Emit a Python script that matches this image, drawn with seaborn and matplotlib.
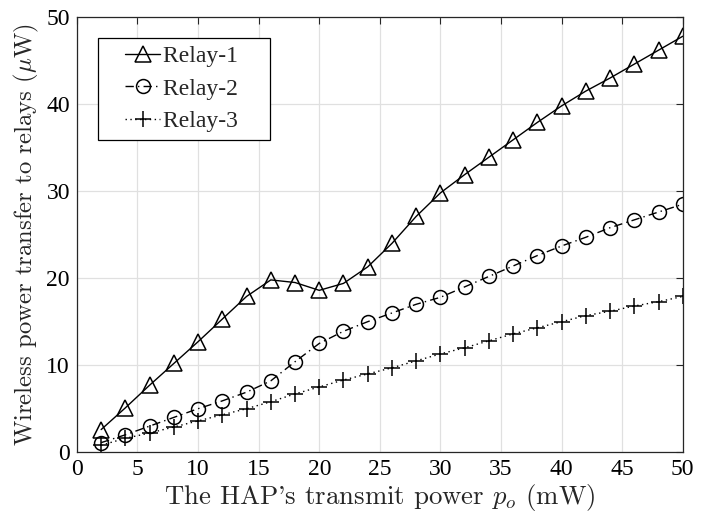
import numpy as np
import pandas as pd
import matplotlib
matplotlib.use("Agg")
import matplotlib.pyplot as plt
from matplotlib.lines import Line2D
from matplotlib.legend_handler import HandlerLine2D
import seaborn as sns

power = [2, 4, 6, 8, 10, 12, 14, 16, 18, 20, 22, 24, 26, 28, 30, 32, 34, 36, 38, 40, 42, 44, 46, 48, 50]
relay1 = [2.6, 5.1, 7.7, 10.2, 12.7, 15.3, 17.9, 19.8, 19.5, 18.6, 19.4, 21.3, 24.0, 27.1, 29.8,
          31.9, 33.9, 35.9, 37.9, 39.8, 41.5, 43.0, 44.6, 46.2, 47.8]
relay2 = [1.1, 2.0, 3.0, 4.0, 5.0, 5.9, 6.9, 8.2, 10.4, 12.5, 13.9, 15.0, 16.0, 17.0, 17.8,
          19.0, 20.2, 21.4, 22.6, 23.7, 24.7, 25.8, 26.7, 27.6, 28.5]
relay3 = [0.8, 1.6, 2.2, 2.9, 3.6, 4.3, 5.0, 5.8, 6.7, 7.5, 8.3, 9.0, 9.7, 10.5, 11.3,
          12.0, 12.8, 13.6, 14.3, 15.0, 15.7, 16.2, 16.8, 17.3, 17.9]
labels = ["Relay-1", "Relay-2", "Relay-3"]
x_ticks = [0, 5, 10, 15, 20, 25, 30, 35, 40, 45, 50]
y_ticks = [0, 10, 20, 30, 40, 50]

sns.set_theme(style="whitegrid")
plt.rcParams['font.family'] = ['Liberation Serif', 'DejaVu Serif']
plt.rcParams['mathtext.fontset'] = 'cm'
plt.rcParams['axes.unicode_minus'] = False

fig = plt.figure(figsize=(7.12, 5.18), dpi=100)
ax = fig.add_axes([0.108, 0.127, 0.851, 0.840])

styles = [("-", "^", 11), ((0, (6, 3, 1, 3)), "o", 10), ((0, (1, 2.5)), "+", 11)]
for vals, lab, (ls, mk, ms) in zip([relay1, relay2, relay3], labels, styles):
    df = pd.DataFrame({"p": power, "v": vals})
    sns.lineplot(data=df, x="p", y="v", ax=ax, color="black", linestyle=ls,
                 marker=mk, markersize=ms, markerfacecolor="none",
                 markeredgecolor="black", markeredgewidth=1.1, linewidth=1.0,
                 label=lab + "    ")

ax.set_xlim(0, 50)
ax.set_ylim(0, 50)
ax.set_xticks(x_ticks)
ax.set_yticks(y_ticks)
ax.tick_params(axis="both", labelsize=17, direction="in", length=5, width=0.8,
               colors="#262626", top=True, right=True, pad=5)
for lab in ax.get_xticklabels() + ax.get_yticklabels():
    lab.set_color("black")
ax.grid(True, color="#e0e0e0", linewidth=0.9)
for s in ax.spines.values():
    s.set_color("#262626")
    s.set_linewidth(0.9)

ax.set_xlabel(r"The HAP's transmit power $p_o$ (mW)", fontsize=19.3, labelpad=1,
              fontfamily="cmr10")
ax.set_ylabel(r"Wireless power transfer to relays ($\mu$W)", fontsize=17.8, labelpad=4,
              fontfamily="cmr10")

leg = ax.legend(loc="upper left", bbox_to_anchor=(0.0345, 0.953), fontsize=17, frameon=True,
                fancybox=False, edgecolor="black", framealpha=1, handlelength=2.3,
                borderpad=0.34, labelspacing=0.47, handletextpad=0.13, borderaxespad=0,
                handler_map={Line2D: HandlerLine2D(xpad=0.83)})
leg.get_frame().set_linewidth(0.9)

fig.savefig("out.png", dpi=100)
